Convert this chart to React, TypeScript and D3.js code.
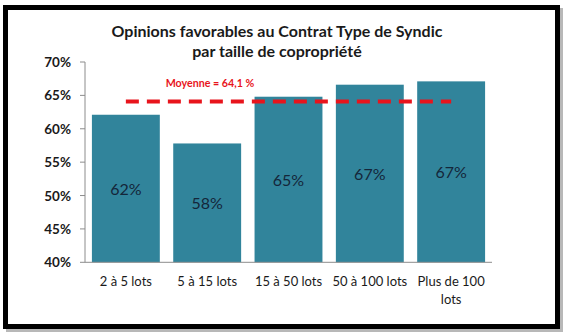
import React from "react";
import * as d3 from "d3";

const categories: string[][] = [
  ["2 à 5 lots"],
  ["5 à 15 lots"],
  ["15 à 50 lots"],
  ["50 à 100 lots"],
  ["Plus de 100", "lots"],
];
const values: number[] = [62.1, 57.8, 64.8, 66.6, 67.1];
const valueLabels: string[] = ["62%", "58%", "65%", "67%", "67%"];
const yTicks: number[] = [40, 45, 50, 55, 60, 65, 70];
const average = 64.1;
const averageLabel = "Moyenne = 64,1 %";
const titleLines = ["Opinions favorables au Contrat Type de Syndic", "par taille de copropriété"];

const W = 564;
const H = 333;
const FONT = "Lato, 'Open Sans', sans-serif";

export default function App() {
  const y = d3.scaleLinear().domain([40, 70]).range([262.3, 62]);
  const x = d3
    .scaleBand<number>()
    .domain(d3.range(values.length))
    .range([85, 492])
    .paddingInner(0.165)
    .paddingOuter(0.085);
  const bw = x.bandwidth();
  const lineX1 = (x(0) as number) + bw / 2;
  const lineX2 = (x(values.length - 1) as number) + bw / 2;
  const yAvg = y(average);

  return (
    <div style={{ position: "absolute", left: 0, top: 0, width: W, height: H }}>
      <svg width={W} height={H} style={{ display: "block" }}>
        <rect x={0} y={0} width={W} height={H} fill="#ffffff" />
        {/* shadow */}
        <rect x={8.5} y={10.5} width={552} height={319} fill="none" stroke="#b8b8b8" strokeWidth={5} />
        <rect x={5.5} y={7.5} width={552} height={319} fill="#ffffff" stroke="#000000" strokeWidth={5} />

        {/* title */}
        <text
          x={277}
          textAnchor="middle"
          fontFamily={FONT}
          fontWeight="bold"
          fontSize={16}
          fill="#1a1a1a"
        >
          {titleLines.map((t, i) => (
            <tspan key={i} x={277} y={36.5 + i * 20.5}>
              {t}
            </tspan>
          ))}
        </text>

        {/* bars */}
        {values.map((v, i) => (
          <rect
            key={i}
            x={x(i) as number}
            y={y(v)}
            width={bw}
            height={y(40) - y(v)}
            fill="#31849B"
          />
        ))}

        {/* data labels */}
        {values.map((v, i) => (
          <text
            key={i}
            x={(x(i) as number) + bw / 2}
            y={(y(v) + y(40)) / 2}
            textAnchor="middle"
            dominantBaseline="central"
            fontFamily={FONT}
            fontSize={16}
            fill="#14263a"
          >
            {valueLabels[i]}
          </text>
        ))}

        {/* y axis */}
        <line x1={85} x2={85} y1={y(70)} y2={y(40)} stroke="#8c8c8c" strokeWidth={1} />
        <line x1={85} x2={492} y1={y(40)} y2={y(40)} stroke="#8c8c8c" strokeWidth={1} />
        {yTicks.map((t) => (
          <g key={t}>
            <line x1={80} x2={85} y1={y(t)} y2={y(t)} stroke="#8c8c8c" strokeWidth={1} />
            <text
              x={71}
              y={y(t)}
              textAnchor="end"
              dominantBaseline="central"
              fontFamily={FONT}
              fontWeight="bold"
              fontSize={13.5}
              fill="#1a1a1a"
            >
              {t}%
            </text>
          </g>
        ))}

        {/* x labels */}
        {categories.map((lines, i) => (
          <text
            key={i}
            textAnchor="middle"
            fontFamily={FONT}
            fontSize={13}
            fill="#1a1a1a"
          >
            {lines.map((l, j) => (
              <tspan key={j} x={(x(i) as number) + bw / 2} y={286 + j * 18}>
                {l}
              </tspan>
            ))}
          </text>
        ))}

        {/* average line */}
        <line
          x1={lineX1}
          x2={lineX2}
          y1={yAvg}
          y2={yAvg}
          stroke="#e8141c"
          strokeWidth={4}
          strokeDasharray="13,8"
        />
        <text
          x={210}
          y={82}
          textAnchor="middle"
          dominantBaseline="central"
          fontFamily={FONT}
          fontWeight="bold"
          fontSize={10.7}
          fill="#e8141c"
        >
          {averageLabel}
        </text>
      </svg>
    </div>
  );
}
